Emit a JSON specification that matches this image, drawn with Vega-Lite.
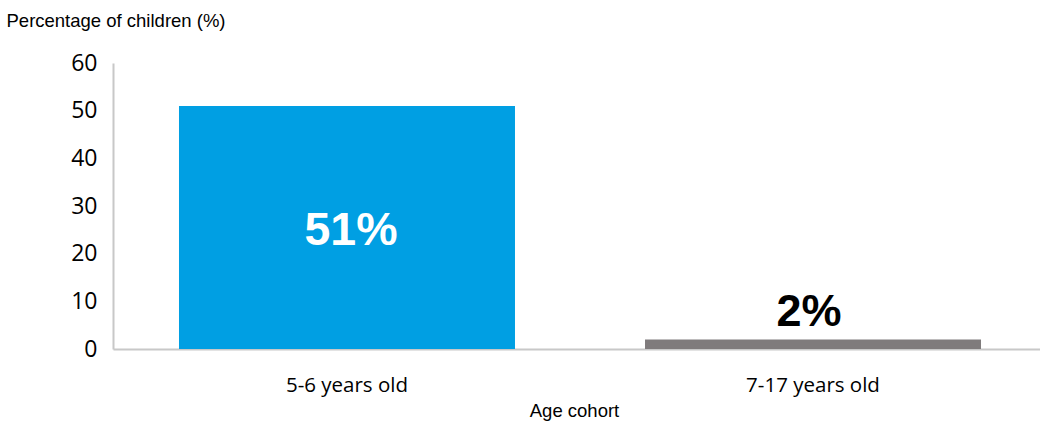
{
  "$schema": "https://vega.github.io/schema/vega-lite/v6.json",
  "width": 934,
  "height": 286,
  "autosize": {"type": "none"},
  "padding": {"left": 113, "top": 63, "right": 0, "bottom": 74},
  "background": "white",
  "config": {"view": {"stroke": null}},
  "data": {"values": [
    {"cohort": "5-6 years old", "pct": 51, "label": "51%"},
    {"cohort": "7-17 years old", "pct": 2, "label": "2%"}
  ]},
  "encoding": {
    "x": {"field": "cohort", "type": "nominal", "sort": null,
      "scale": {"paddingInner": 0.279, "paddingOuter": 0.1416},
      "axis": {"title": "Age cohort", "labelAngle": 0, "labelFont": "Open Sans", "labelFontSize": 20.5, "labelColor": "#000", "labelPadding": 26, "ticks": false, "domainColor": "#c8c8c8", "domainWidth": 2, "titleFont": "Liberation Sans", "titleFontSize": 18.5, "titleFontWeight": "normal", "titleColor": "#000", "titleY": 67, "titleBaseline": "alphabetic", "titleX": 461}},
    "y": {"field": "pct", "type": "quantitative",
      "scale": {"domain": [0, 60]},
      "axis": {"values": [0, 10, 20, 30, 40, 50, 60], "grid": false, "ticks": false, "domainColor": "#c8c8c8", "domainWidth": 2, "labelFont": "Open Sans", "labelFontSize": 23, "labelColor": "#000", "labelPadding": 16, "title": "Percentage of children (%)", "titleAngle": 0, "titleAlign": "left", "titleBaseline": "alphabetic", "titleX": -107, "titleY": -37, "titleFont": "Liberation Sans", "titleFontSize": 18.5, "titleFontWeight": "normal", "titleColor": "#000"}}
  },
  "layer": [
    {"mark": {"type": "bar"},
      "encoding": {"color": {"field": "cohort", "type": "nominal", "legend": null, "scale": {"range": ["#009FE3", "#7F7B7C"]}}}},
    {"transform": [{"filter": "datum.pct > 20"}],
      "mark": {"type": "text", "font": "Liberation Sans", "fontWeight": "bold", "fontSize": 46.5, "color": "white", "baseline": "middle", "dy": 125, "dx": 4},
      "encoding": {"text": {"field": "label"}}},
    {"transform": [{"filter": "datum.pct <= 20"}],
      "mark": {"type": "text", "font": "Liberation Sans", "fontWeight": "bold", "fontSize": 45, "color": "black", "baseline": "middle", "dy": -27, "dx": -4},
      "encoding": {"text": {"field": "label"}}}
  ]
}
